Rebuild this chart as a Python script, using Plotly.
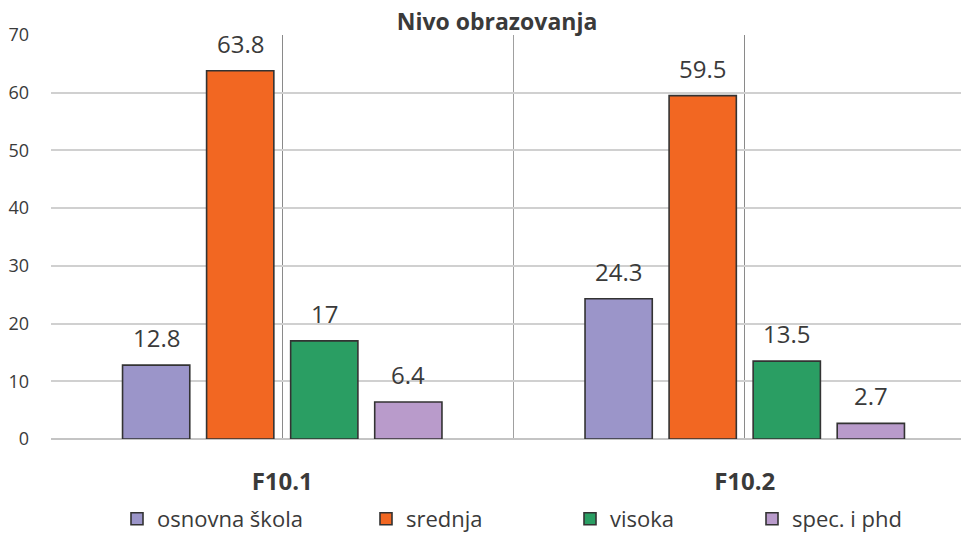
import plotly.graph_objects as go

categories = ["F10.1", "F10.2"]
series_names = ["osnovna škola", "srednja", "visoka", "spec. i phd"]
osnovna = [12.8, 24.3]
srednja = [63.8, 59.5]
visoka = [17, 13.5]
spec = [6.4, 2.7]
series_values = [osnovna, srednja, visoka, spec]
colors = ["#9b95c9", "#f26722", "#2a9e63", "#b99bcb"]
y_ticks = [0, 10, 20, 30, 40, 50, 60, 70]
title_text = "Nivo obrazovanja"

FONT = "Open Sans"
TXT = "#3a3a3a"
W, H = 961, 534
ML, MR, MT, MB = 51, 0, 35, 95

bargap = 0.273
n = len(series_values)
slot = (1 - bargap) / n
xpos = list(range(len(categories)))
# visible part of the last category (plot area cut at the image edge)
x_max = 1.5 - 15 / 463

fig = go.Figure()
legend_x = [132, 381, 585, 767]
legend_w = [200, 135, 115, 165]
for k, (name, vals, col) in enumerate(zip(series_names, series_values, colors)):
    lg = "legend" if k == 0 else f"legend{k+1}"
    fig.add_trace(go.Bar(
        x=xpos, y=vals, name=name,
        marker=dict(color=col, line=dict(color="#333333", width=1.6)),
        legend=lg,
    ))
    for i, v in enumerate(vals):
        fig.add_annotation(
            x=i + (k - (n - 1) / 2) * slot, y=v, text=f"{v:g}",
            showarrow=False, yanchor="bottom", yshift=9,
            font=dict(family=FONT, size=24, color=TXT),
        )

legends = {}
for k, px in enumerate(legend_x):
    key = "legend" if k == 0 else f"legend{k+1}"
    legends[key] = dict(
        x=(px - 15) / W, xref="container", xanchor="left",
        y=1 - 519 / H, yref="container", yanchor="middle",
        orientation="h", bgcolor="rgba(0,0,0,0)",
        font=dict(family=FONT, size=22, color=TXT),
        itemwidth=30, entrywidth=legend_w[k], entrywidthmode="pixels",
    )

fig.update_layout(
    width=W, height=H,
    margin=dict(l=ML, r=MR, t=MT, b=MB),
    paper_bgcolor="white", plot_bgcolor="white",
    barmode="group", bargap=bargap, bargroupgap=0.2,
    title=dict(text=f"<b>{title_text}</b>", x=497 / W, xanchor="center",
               y=1 - 22 / H, yanchor="middle",
               font=dict(family=FONT, size=23, color=TXT)),
    showlegend=True,
    **legends,
)
fig.update_xaxes(
    range=[-0.5, x_max], tickvals=xpos,
    ticktext=[f"<b>{c}</b>" for c in categories],
    tickfont=dict(family=FONT, size=24, color=TXT),
    showgrid=True, gridcolor="#8a8a8a", gridwidth=1,
    minor=dict(tickvals=[-0.5, 0.5], showgrid=True, gridcolor="#a0a0a0", gridwidth=1.2),
    ticks="", ticklabelstandoff=26, automargin=False,
    showline=False, zeroline=False,
)
fig.update_yaxes(
    range=[0, 70], tickvals=y_ticks,
    tickfont=dict(family=FONT, size=18, color=TXT),
    showgrid=True, gridcolor="#d0d0d0", gridwidth=1.5,
    zeroline=True, zerolinecolor="#c4c4c4", zerolinewidth=1.5,
    ticks="", ticklabelstandoff=21, automargin=False,
)
fig.write_html("out.html", config={"displayModeBar": False},
               post_script="document.body.style.margin='0';")
